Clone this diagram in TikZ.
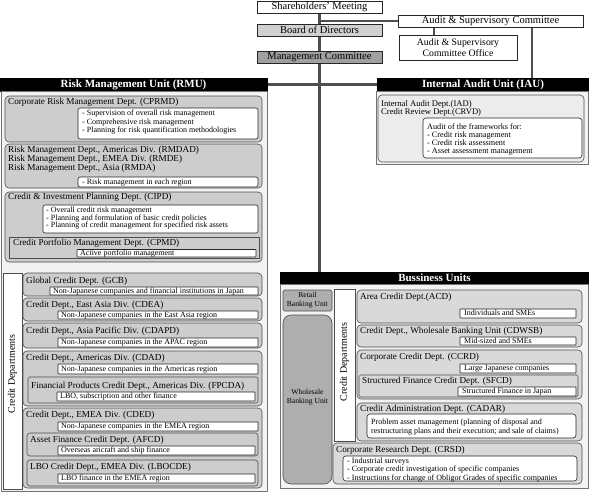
\documentclass[tikz,border=0pt]{standalone}
\usepackage{fontspec}
\setmainfont{Liberation Serif}
\usetikzlibrary{fit}
\definecolor{conn}{HTML}{4F4F4F}
\definecolor{deptfill}{HTML}{CDCDCD}
\definecolor{bdeptfill}{HTML}{D9D9D9}
\definecolor{panelfill}{HTML}{F3F3F3}
\definecolor{iadfill}{HTML}{ECECEC}
\definecolor{boardfill}{HTML}{D0D0D0}
\definecolor{mcfill}{HTML}{A0A0A0}
\definecolor{unitfill}{HTML}{AEAEAE}
\pgfdeclarelayer{bg}
\pgfsetlayers{bg,main}
\tikzset{
  conline/.style={draw=conn, line width=2.6pt},
  topbox/.style={draw=black!85, line width=0.6pt, inner sep=0pt},
  toptext/.style={inner sep=0pt, font=\fontsize{10.5}{11}\selectfont},
  hdr/.style={fill=black, draw=black, inner sep=0pt},
  hdrtext/.style={inner sep=0pt, text=white, font=\bfseries\fontsize{11}{12}\selectfont},
  panel/.style={draw=black!55, fill=panelfill, line width=0.6pt, inner sep=0pt},
  dept/.style={draw=black!70, fill=deptfill, line width=0.6pt, rounded corners=4pt, inner sep=0pt},
  bdept/.style={dept, fill=bdeptfill},
  subdept/.style={dept, rounded corners=1.5pt},
  bsubdept/.style={bdept, rounded corners=1.5pt},
  desc/.style={draw=black!85, fill=white, line width=0.6pt, rounded corners=2pt, inner sep=0pt},
  strip/.style={draw=black!70, fill=white, line width=0.6pt, inner sep=0pt},
  dname/.style={anchor=west, inner sep=0pt, text height=6.6pt, text depth=2pt, font=\fontsize{9.2}{10}\selectfont},
  dtext/.style={anchor=west, inner sep=0pt, text height=5.8pt, text depth=1.6pt, font=\fontsize{8}{9}\selectfont},
  itext/.style={anchor=west, inner sep=0pt, text height=5.8pt, text depth=1.6pt, font=\fontsize{8.2}{9}\selectfont},
  vtext/.style={rotate=90, inner sep=0pt, font=\fontsize{10}{11}\selectfont},
  utext/.style={inner sep=0pt, align=center, font=\fontsize{7.6}{9}\selectfont}
}
\begin{document}
\begin{tikzpicture}[x=1pt,y=-1pt]
\useasboundingbox (0,0) rectangle (589,493);
% ---------- top ----------
\node[topbox, fill=white, fit={(257,1)(382,13)}] (sh) {};
\node[toptext] (sht) at (sh.center) {Shareholders' Meeting};
\node[topbox, fill=boardfill, fit={(257,24)(382,36)}] (bod) {};
\node[toptext] (bodt) at (bod.center) {Board of Directors};
\node[topbox, fill=mcfill, fit={(257,51)(382,63)}] (mc) {};
\node[toptext] (mct) at (mc.center) {Management Committee};
\node[topbox, fill=white, fit={(398,15)(583,27)}] (asc) {};
\node[toptext] (asct) at (asc.center) {Audit \& Supervisory Committee};
\node[topbox, fill=white, fit={(399,35)(517,60)}] (asco) {};
\node[inner sep=0pt, align=center, font=\fontsize{9.8}{10.5}\selectfont] (ascot) at (asco.center) {Audit \& Supervisory\\Committee Office};
% ---------- headers ----------
\node[hdr, fit={(0,78)(267,91)}] (rmuh) {};
\node[hdrtext] (rmuht) at (rmuh.center) {Risk Management Unit (RMU)};
\node[hdr, fit={(377,78)(589,91)}] (iauh) {};
\node[hdrtext] (iauht) at (iauh.center) {Internal Audit Unit (IAU)};
\node[hdr, fit={(280,272)(589,284)}] (buh) {};
\node[hdrtext] (buht) at (buh.center) {Bussiness Units};
% ---------- connectors ----------
\begin{pgfonlayer}{bg}
\draw[conline] (sh.south) -- (sh.south |- buh.north);
\draw[conline] (sh.south |- asc.west) -- (asc.west);
\draw[conline] ([xshift=-24pt]asco.north) -- ([xshift=-24pt]asco.north |- asc.south);
\draw[conline] ([xshift=49pt]iauh.north) -- ([xshift=49pt]iauh.north |- asc.south);
\draw[conline] (rmuh.east) -- (iauh.west);
\end{pgfonlayer}
% ---------- RMU panel ----------
\node[panel, fit={(1,91)(267,491)}] (rmup) {};
% CPRMD
\node[dept, fit={(5,96)(262,142)}] (cprmd) {};
\node[dname] (cprmdt) at (8,102) {Corporate Risk Management Dept. (CPRMD)};
\node[desc, fit={(78,108)(258,139)}] (cprmdi) {};
\node[dtext] (cprmd1) at (82,113.5) {- Supervision of overall risk management};
\node[dtext] (cprmd2) at (82,122) {- Comprehensive risk management};
\node[dtext] (cprmd3) at (82,130.5) {- Planning for risk quantification methodologies};
% RMDAD
\node[dept, fit={(5,144)(262,188)}] (rmdad) {};
\node[dname] (rmdad1) at (8,150) {Risk Management Dept., Americas Div. (RMDAD)};
\node[dname] (rmdad2) at (8,159) {Risk Management Dept., EMEA Div. (RMDE)};
\node[dname] (rmdad3) at (8,168) {Risk Management Dept., Asia (RMDA)};
\node[desc, fit={(78,177)(258,187)}] (rmdadi) {};
\node[dtext] (rmdadt) at (82,182) {- Risk management in each region};
% CIPD
\node[dept, fit={(5,192)(262,262)}] (cipd) {};
\node[dname] (cipdt) at (8,197.5) {Credit \& Investment Planning Dept. (CIPD)};
\node[desc, fit={(43,205)(258,233)}] (cipdi) {};
\node[dtext] (cipd1) at (46,210.5) {- Overall credit risk management};
\node[dtext] (cipd2) at (46,218) {- Planning and formulation of basic credit policies};
\node[dtext] (cipd3) at (46,225.5) {- Planning of credit management for specified risk assets};
\node[subdept, rounded corners=0pt, fit={(9,237)(259,258)}] (cpmd) {};
\node[dname] (cpmdt) at (13,243.5) {Credit Portfolio Management Dept. (CPMD)};
\node[desc, rounded corners=0.5pt, fit={(77,249.5)(256,257)}] (cpmdi) {};
\node[dtext] (cpmdit) at (80,253.3) {Active portfolio management};
% Credit departments (left)
\node[strip, fit={(3,273)(22,489)}] (lstrip) {};
\node[vtext] (lstript) at (12.5,374) {Credit Departments};
\node[dept, fit={(23,273)(262,296)}] (gcb) {};
\node[dname] (gcbt) at (26,281) {Global Credit Dept. (GCB)};
\node[desc, rounded corners=0.5pt, fit={(50,287)(258,295)}] (gcbi) {};
\node[dtext] (gcbit) at (53,291) {Non-Japanese companies and financial institutions in Japan};
\node[dept, fit={(23,298)(262,321)}] (cdea) {};
\node[dname] (cdeat) at (26,305) {Credit Dept., East Asia Div. (CDEA)};
\node[desc, rounded corners=0.5pt, fit={(58,311)(258,319)}] (cdeai) {};
\node[dtext] (cdeait) at (61,315) {Non-Japanese companies in the East Asia region};
\node[dept, fit={(23,323)(262,348)}] (cdapd) {};
\node[dname] (cdapdt) at (26,331) {Credit Dept., Asia Pacific Div. (CDAPD)};
\node[desc, rounded corners=0.5pt, fit={(58,338)(258,347)}] (cdapdi) {};
\node[dtext] (cdapdit) at (61,342.5) {Non-Japanese companies in the APAC region};
\node[dept, fit={(23,351)(262,406)}] (cdad) {};
\node[dname] (cdadt) at (26,358) {Credit Dept., Americas Div. (CDAD)};
\node[desc, rounded corners=0.5pt, fit={(58,364)(258,374)}] (cdadi) {};
\node[dtext] (cdadit) at (61,369) {Non-Japanese companies in the Americas region};
\node[subdept, fit={(28,377)(258,403)}] (fpcda) {};
\node[dname] (fpcdat) at (31,386) {Financial Products Credit Dept., Americas Div. (FPCDA)};
\node[desc, rounded corners=0.5pt, fit={(57,392)(255,401)}] (fpcdai) {};
\node[dtext] (fpcdait) at (60,396.5) {LBO, subscription and other finance};
\node[dept, fit={(23,408)(262,488)}] (cded) {};
\node[dname] (cdedt) at (26,415) {Credit Dept., EMEA Div. (CDED)};
\node[desc, rounded corners=0.5pt, fit={(58,422)(258,431)}] (cdedi) {};
\node[dtext] (cdedit) at (61,426.5) {Non-Japanese companies in the EMEA region};
\node[dept, rounded corners=3pt, fit={(27,433)(258,456)}] (afcd) {};
\node[dname] (afcdt) at (30,440) {Asset Finance Credit Dept. (AFCD)};
\node[desc, rounded corners=0.5pt, fit={(58,446)(255,455)}] (afcdi) {};
\node[dtext] (afcdit) at (61,450.5) {Overseas aricraft and ship finance};
\node[dept, rounded corners=3pt, fit={(27,460)(258,486)}] (lbocde) {};
\node[dname] (lbocdet) at (30,467) {LBO Credit Dept., EMEA Div. (LBOCDE)};
\node[desc, rounded corners=0.5pt, fit={(58,474)(255,483)}] (lbocdei) {};
\node[dtext] (lbocdeit) at (61,478.5) {LBO finance in the EMEA region};
% ---------- IAU panel ----------
\node[panel, fit={(376,91)(588,164)}] (iaup) {};
\node[dept, fill=iadfill, fit={(378,95)(584,162)}] (iad) {};
\node[itext, font=\fontsize{8.6}{9}\selectfont] (iadt1) at (381,104) {Internal Audit Dept.(IAD)};
\node[itext, font=\fontsize{8.6}{9}\selectfont] (iadt2) at (381,112) {Credit Review Dept.(CRVD)};
\node[desc, rounded corners=3pt, fit={(423,118)(582,158)}] (iadi) {};
\node[itext] (iadi1) at (427,127) {Audit of the frameworks for:};
\node[itext] (iadi2) at (427,135) {- Credit risk management};
\node[itext] (iadi3) at (427,143) {- Credit risk assessment};
\node[itext] (iadi4) at (427,151) {- Asset assessment management};
% ---------- Business panel ----------
\node[panel, fit={(280,284)(588,488)}] (bup) {};
\node[draw=black!70, fill=unitfill, line width=0.6pt, rounded corners=1.5pt, inner sep=0pt, fit={(283,290)(332,311)}] (retail) {};
\node[utext] (retailt) at (retail.center) {Retail\\Banking Unit};
\node[draw=black!70, fill=unitfill, line width=0.6pt, rounded corners=8pt, inner sep=0pt, fit={(283,315)(332,484)}] (whole) {};
\node[utext] (wholet) at (307.5,397) {Wholesale\\Banking Unit};
\node[strip, fit={(334,289)(355,441)}] (rstrip) {};
\node[vtext] (rstript) at (344.5,362) {Credit Departments};
\node[bdept, fit={(357,290)(582,323)}] (acd) {};
\node[dname] (acdt) at (360,297) {Area Credit Dept.(ACD)};
\node[desc, rounded corners=0.5pt, fit={(460,309)(576,318)}] (acdi) {};
\node[dtext] (acdit) at (464,313.5) {Individuals and SMEs};
\node[bdept, fit={(357,325)(582,347)}] (cdwsb) {};
\node[dname] (cdwsbt) at (360,331) {Credit Dept., Wholesale Banking Unit (CDWSB)};
\node[desc, rounded corners=0.5pt, fit={(460,337)(576,345)}] (cdwsbi) {};
\node[dtext] (cdwsbit) at (464,341) {Mid-sized and SMEs};
\node[bdept, fit={(357,350)(582,399)}] (ccrd) {};
\node[dname] (ccrdt) at (360,357) {Corporate Credit Dept. (CCRD)};
\node[desc, rounded corners=0.5pt, fit={(460,364)(576,373)}] (ccrdi) {};
\node[dtext] (ccrdit) at (464,368.5) {Large Japanese companies};
\node[bsubdept, fit={(359,375)(578,397)}] (sfcd) {};
\node[dname] (sfcdt) at (362,381) {Structured Finance Credit Dept. (SFCD)};
\node[desc, rounded corners=0.5pt, fit={(458,387)(576,396)}] (sfcdi) {};
\node[dtext] (sfcdit) at (462,391.5) {Structured Finance in Japan};
\node[bdept, fit={(357,403)(582,441)}] (cadar) {};
\node[dname] (cadart) at (360,409.5) {Credit Administration Dept. (CADAR)};
\node[desc, rounded corners=3pt, fit={(367,414)(576,438)}] (cadari) {};
\node[dtext] (cadar1) at (371,422) {Problem asset management (planning of disposal and};
\node[dtext] (cadar2) at (371,431) {restructuring plans and their execution; and sale of claims)};
\node[bdept, fit={(333,443)(582,484)}] (crsd) {};
\node[dname] (crsdt) at (336,450.5) {Corporate Research Dept. (CRSD)};
\node[desc, rounded corners=3pt, fit={(343,456)(577,481)}] (crsdi) {};
\node[dtext] (crsd1) at (347,461) {- Industrial surveys};
\node[dtext] (crsd2) at (347,469.5) {- Corporate credit investigation of specific companies};
\node[dtext] (crsd3) at (347,478) {- Instructions for change of Obligor Grades of specific companies};
\end{tikzpicture}
\end{document}
